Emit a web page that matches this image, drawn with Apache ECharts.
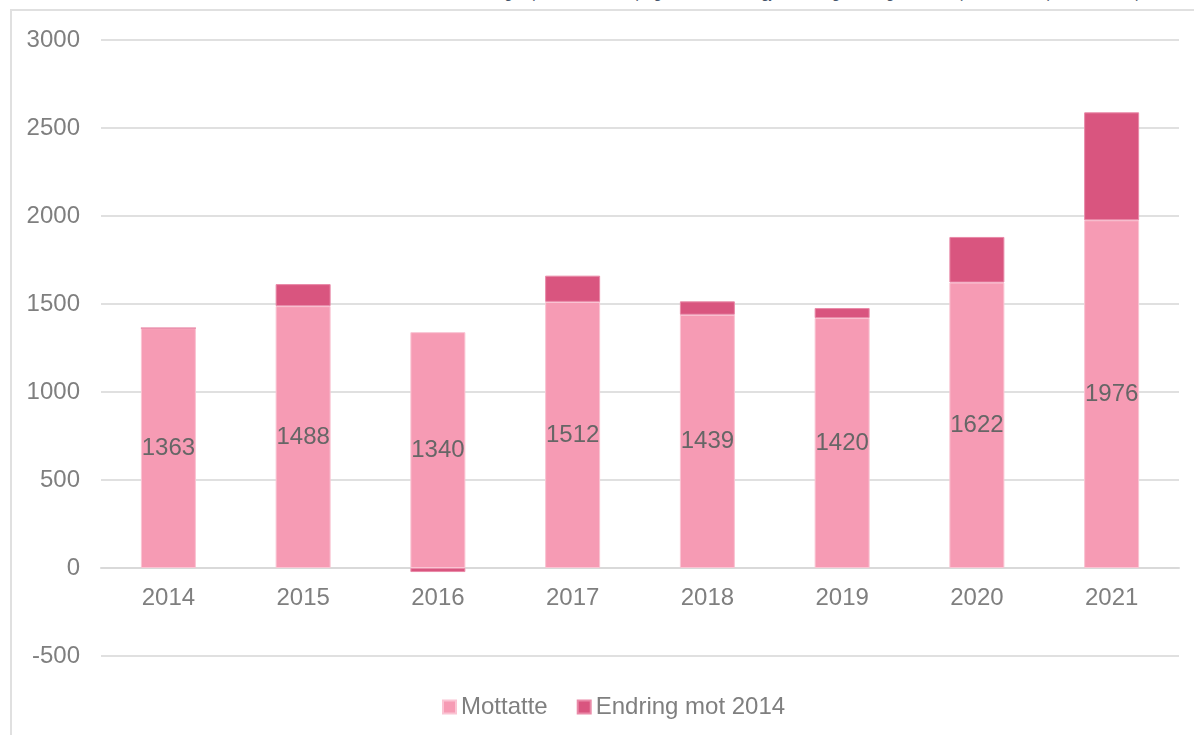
<!DOCTYPE html>
<html>
<head>
<meta charset="utf-8">
<script src="https://cdn.jsdelivr.net/npm/echarts@6/dist/echarts.min.js"></script>
<style>
html,body{margin:0;padding:0;background:#fff;overflow:hidden;}
#frame{position:absolute;left:10px;top:9px;width:1200px;height:740px;border-left:2px solid #e0e0e0;border-top:2px solid #e0e0e0;}
#title{position:absolute;left:385px;top:-16px;font-family:"Liberation Sans",Arial,sans-serif;font-size:15px;line-height:18px;height:18px;color:#44546a;white-space:nowrap;}
#chart{position:absolute;left:0;top:0;width:1194px;height:735px;}
</style>
</head>
<body>
<div id="title">Antall mottatte klager (ordinære saker) og hvorvidt de er gjort om, og endring fra 2014 (absolutte tall), 2014–2021)</div>
<div id="frame"></div>
<div id="chart"></div>
<script>
const categories = ['2014','2015','2016','2017','2018','2019','2020','2021'];
const mottatte = [1363, 1488, 1340, 1512, 1439, 1420, 1622, 1976];
const endring = [0, 125, -23, 149, 76, 57, 259, 613];
const yTicks = { min: -500, max: 3000, interval: 500 };

const chart = echarts.init(document.getElementById('chart'));
const font = '"Liberation Sans", Arial, sans-serif';
chart.setOption({
  animation: false,
  grid: { left: 101, right: 15, top: 40, bottom: 79 },
  legend: {
    bottom: 11, left: 437,
    itemWidth: 13, itemHeight: 13, itemGap: 29,
    icon: 'rect',
    textStyle: { fontSize: 24, color: '#7f7f7f', fontFamily: font },
    data: ['Mottatte', 'Endring mot 2014']
  },
  xAxis: {
    type: 'category', data: categories,
    position: 'bottom', offset: -88,
    axisLine: { show: true, onZero: false, lineStyle: { color: '#d9d9d9', width: 2 } },
    axisTick: { show: false },
    axisLabel: { fontSize: 24, color: '#7f7f7f', fontFamily: font, margin: 18 }
  },
  yAxis: {
    type: 'value', min: yTicks.min, max: yTicks.max, interval: yTicks.interval,
    splitLine: { lineStyle: { color: '#e0e0e0', width: 2 } },
    axisLine: { show: false }, axisTick: { show: false },
    axisLabel: { fontSize: 24, color: '#7f7f7f', fontFamily: font, margin: 21, formatter: v => String(v) }
  },
  series: [
    {
      name: 'Mottatte', type: 'bar', stack: 'a', data: mottatte, barWidth: 55,
      itemStyle: { color: '#f69bb4', borderColor: '#fac4d3', borderWidth: 1 },
      label: { show: true, position: 'inside', fontSize: 24, color: '#666666', fontFamily: font }
    },
    {
      name: 'Endring mot 2014', type: 'bar', stack: 'a', data: endring, barWidth: 55,
      itemStyle: { color: '#d9557f', borderColor: '#e98aa8', borderWidth: 1 }
    }
  ]
});
</script>
</body>
</html>
